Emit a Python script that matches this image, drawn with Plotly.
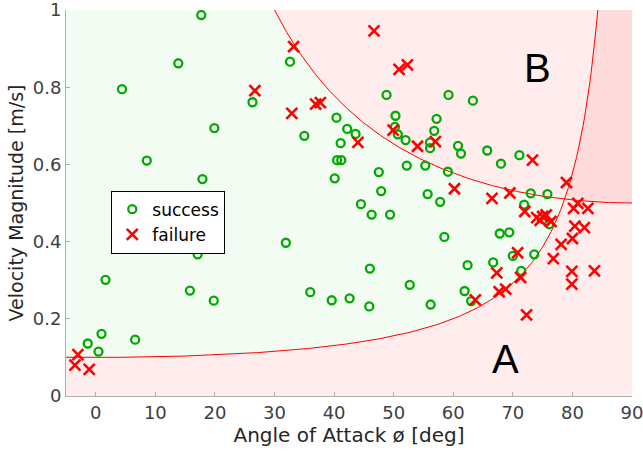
import numpy as np
import plotly.graph_objects as go

# ---- data ----
success_x = [17.7, 13.85, 4.4, 26.3, 19.9, 8.56, 17.9, 17.1, 1.63, 15.8, 19.8, 0.96, 6.6, -1.35, 0.45,
             31.9, 36.0, 39.6, 42.6, 45.9, 46.0, 52.7, 56.2, 32.6, 48.8, 59.2, 63.3, 50.3, 40.4, 57.2,
             42.2, 43.6, 50.2, 50.7, 35.0, 56.8, 52.0, 41.1, 56.1, 56.1, 40.5, 41.2, 40.1, 47.5, 52.2,
             55.3, 59.1, 47.9, 55.7, 57.8, 44.5, 46.3, 49.4, 58.5, 60.8, 61.3, 65.7, 71.1, 68.0, 73.0,
             75.8, 71.9, 76.1, 67.8, 69.4, 70.0, 73.6, 66.7, 62.4, 71.4, 61.9, 63.0]
success_y = [0.987, 0.862, 0.795, 0.761, 0.694, 0.610, 0.562, 0.367, 0.301, 0.273, 0.247, 0.161, 0.146, 0.136, 0.115,
             0.397, 0.269, 0.248, 0.253, 0.232, 0.330, 0.288, 0.237, 0.866, 0.780, 0.780, 0.765, 0.726, 0.721, 0.718,
             0.692, 0.679, 0.697, 0.678, 0.674, 0.687, 0.663, 0.655, 0.657, 0.642, 0.611, 0.611, 0.564, 0.580, 0.597,
             0.597, 0.581, 0.531, 0.523, 0.503, 0.497, 0.470, 0.470, 0.412, 0.648, 0.628, 0.636, 0.624, 0.602, 0.525,
             0.523, 0.496, 0.445, 0.421, 0.424, 0.363, 0.367, 0.346, 0.339, 0.324, 0.272, 0.246]

failure_x = [-3.0, -3.5, -1.1, 26.7, 46.7, 33.2, 50.9, 52.3, 36.9, 37.7, 32.9, 49.9, 44.0, 54.0, 57.0,
             60.2, 66.5, 69.5, 73.3, 79.0, 72.0, 74.0, 74.6, 75.0, 75.6, 76.4, 80.2, 80.9, 82.6, 80.4,
             82.0, 80.0, 78.1, 76.8, 70.8, 67.3, 71.3, 79.9, 79.9, 83.7, 63.7, 67.7, 68.8, 72.3]
failure_y = [0.107, 0.080, 0.069, 0.791, 0.946, 0.905, 0.846, 0.858, 0.756, 0.760, 0.732, 0.689, 0.657, 0.647, 0.659,
             0.537, 0.512, 0.526, 0.611, 0.553, 0.478, 0.462, 0.455, 0.465, 0.469, 0.452, 0.486, 0.499, 0.486, 0.440,
             0.436, 0.408, 0.393, 0.356, 0.371, 0.319, 0.307, 0.323, 0.290, 0.324, 0.249, 0.270, 0.277, 0.210]

x_ticks = [0, 10, 20, 30, 40, 50, 60, 70, 80, 90]
y_ticks = [0, 0.2, 0.4, 0.6, 0.8, 1]
y_tick_labels = ["0", "0.2", "0.4", "0.6", "0.8", "1"]

# boundary models: A -> v = 0.1/cos(phi), B -> v = 0.5/sin(phi)
vA, vB = 0.1, 0.5
xmin, xmax, ymin, ymax = -5, 90, 0, 1

def curveA(t):
    return vA / np.cos(np.radians(t))

def curveB(t):
    return vB / np.sin(np.radians(t))

tA_end = np.degrees(np.arccos(vA / ymax))
tB_start = np.degrees(np.arcsin(vB / ymax))
t_int = np.degrees(np.arctan(vB / vA))

tA = np.linspace(xmin, tA_end, 400)
tB = np.linspace(tB_start, xmax, 400)
tG = np.linspace(xmin, t_int, 500)

PINK = "rgba(255,0,0,0.07)"
GREEN = "rgba(0,200,0,0.05)"
FONT = "DejaVu Sans"

fig = go.Figure()

# Region A (below / right of curve A)
fig.add_trace(go.Scatter(
    x=list(tA) + [xmax, xmax, xmin], y=list(curveA(tA)) + [ymax, ymin, ymin],
    fill="toself", fillcolor=PINK, line=dict(width=0),
    mode="lines", hoverinfo="skip", showlegend=False))
# Region B (above curve B)
fig.add_trace(go.Scatter(
    x=list(tB) + [xmax, tB_start], y=list(curveB(tB)) + [ymax, ymax],
    fill="toself", fillcolor=PINK, line=dict(width=0),
    mode="lines", hoverinfo="skip", showlegend=False))
# Safe region
top = np.where(tG > 0, np.minimum(ymax, vB / np.sin(np.radians(np.clip(tG, 1e-6, 90)))), ymax)
fig.add_trace(go.Scatter(
    x=list(tG) + list(tG[::-1]), y=list(curveA(tG)) + list(top[::-1]),
    fill="toself", fillcolor=GREEN, line=dict(width=0),
    mode="lines", hoverinfo="skip", showlegend=False))

# boundary lines
fig.add_trace(go.Scatter(x=tA, y=curveA(tA), mode="lines", line=dict(color="red", width=1),
                         hoverinfo="skip", showlegend=False))
fig.add_trace(go.Scatter(x=tB, y=curveB(tB), mode="lines", line=dict(color="red", width=1),
                         hoverinfo="skip", showlegend=False))

fig.add_trace(go.Scatter(x=success_x, y=success_y, mode="markers", name="success",
                         marker=dict(symbol="circle-open", size=8, color="#00aa00",
                                     line=dict(width=2.3, color="#00aa00"))))
fig.add_trace(go.Scatter(x=failure_x, y=failure_y, mode="markers", name="failure",
                         marker=dict(symbol="x-thin-open", size=11, color="#ff0000",
                                     line=dict(width=2.6, color="#ff0000"))))

fig.add_annotation(x=74.1, y=0.85, text="B", showarrow=False,
                   font=dict(size=40, color="black", family="Liberation Sans"))
fig.add_annotation(x=68.8, y=0.096, text="A", showarrow=False,
                   font=dict(size=40, color="black", family="Liberation Sans"))

fig.update_layout(
    width=643, height=451,
    margin=dict(l=66, r=11, t=10, b=55),
    paper_bgcolor="white", plot_bgcolor="white",
    font=dict(family=FONT, color="#262626"),
    legend=dict(x=0.08, y=0.532, xanchor="left", yanchor="top",
                bgcolor="white", bordercolor="black", borderwidth=1,
                font=dict(size=17, color="#000000", family=FONT), tracegroupgap=0,
                itemwidth=30),
    showlegend=True,
)
fig.update_xaxes(range=[xmin, xmax], tickvals=x_ticks, showgrid=False, zeroline=False,
                 automargin=False, ticklabeloverflow="allow",
                 showline=True, linecolor="#b0b0b0", linewidth=1,
                 ticks="inside", ticklen=4, tickcolor="#b0b0b0",
                 tickfont=dict(size=18, color="#404040", family=FONT),
                 title=dict(text="Angle of Attack ø [deg]", font=dict(size=20, color="#262626", family=FONT),
                            standoff=6))
fig.update_yaxes(range=[ymin, ymax], tickvals=y_ticks, ticktext=y_tick_labels, showgrid=False, zeroline=False,
                 automargin=False, ticklabeloverflow="allow",
                 showline=True, linecolor="#b0b0b0", linewidth=1,
                 ticks="inside", ticklen=4, tickcolor="#b0b0b0",
                 tickfont=dict(size=18, color="#404040", family=FONT),
                 title=dict(text="Velocity Magnitude [m/s]", font=dict(size=19, color="#262626", family=FONT),
                            standoff=4))

fig.write_html("out.html")
